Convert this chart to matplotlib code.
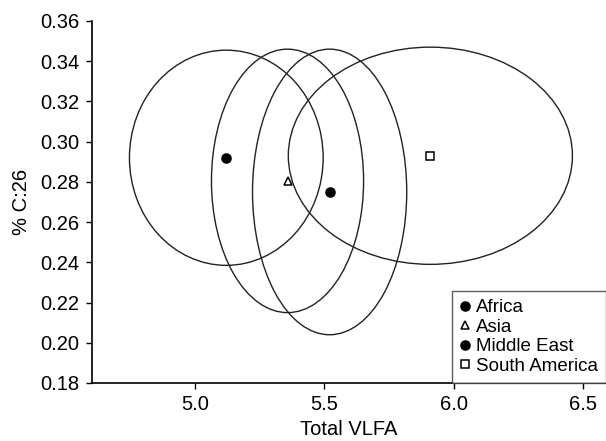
import matplotlib
matplotlib.use('Agg')
import matplotlib.pyplot as plt
from matplotlib.patches import Ellipse
from matplotlib.lines import Line2D

plt.rcParams['font.family'] = ['Liberation Sans', 'DejaVu Sans']

regions = ['Africa', 'Asia', 'Middle East', 'South America']
vlfa = [5.12, 5.357, 5.52, 5.91]
c26 = [0.292, 0.2805, 0.275, 0.293]
ell_w = [0.75, 0.589, 0.597, 1.10]
ell_h = [0.107, 0.131, 0.142, 0.108]
markers = ['o', '^', 'o', 's']
filled = [True, False, True, False]

fig = plt.figure(figsize=(6.06, 4.41), dpi=100)
ax = fig.add_axes([92 / 606, 1 - 383 / 441, 1 - 92 / 606, (383 - 21) / 441])

for x, y, w, h in zip(vlfa, c26, ell_w, ell_h):
    ax.add_patch(Ellipse((x, y), w, h, fill=False, edgecolor='#222222', linewidth=1.0))

handles = []
for x, y, m, f, lab in zip(vlfa, c26, markers, filled, regions):
    fc = 'black' if f else 'white'
    ms = 6.5 if m == 'o' else 6
    ax.plot([x], [y], linestyle='none', marker=m, markersize=ms, mfc=fc, mec='black', mew=1.1)
    handles.append(Line2D([], [], linestyle='none', marker=m, markersize=ms, mfc=fc,
                          mec='black', mew=1.1, label=lab))

ax.set_xlim(4.6, 6.59)
ax.set_ylim(0.18, 0.36)
ax.set_xticks([5.0, 5.5, 6.0, 6.5])
ax.set_xticklabels(['5.0', '5.5', '6.0', '6.5'])
ax.set_yticks([0.18 + 0.02 * i for i in range(10)])
ax.set_yticklabels(['%.2f' % (0.18 + 0.02 * i) for i in range(10)])
ax.tick_params(labelsize=14.5, length=4, width=1.0, direction='out', colors='black', pad=5)
ax.spines['top'].set_visible(False)
ax.spines['right'].set_visible(False)
ax.spines['left'].set_linewidth(1.2)
ax.spines['bottom'].set_linewidth(1.2)

ax.set_xlabel('Total VLFA', fontsize=14.5, labelpad=4)
ax.set_ylabel('% C:26', fontsize=14.5, labelpad=7)

leg = ax.legend(handles=handles, loc='lower right', bbox_to_anchor=(1.0, 0.0), fontsize=13.5,
                frameon=True, fancybox=False, borderaxespad=0, handlelength=0.5,
                handletextpad=0.3, labelspacing=0.12, borderpad=0.45)
leg.get_frame().set_edgecolor('#333333')
leg.get_frame().set_linewidth(1.0)

fig.savefig('out.png', dpi=100)
